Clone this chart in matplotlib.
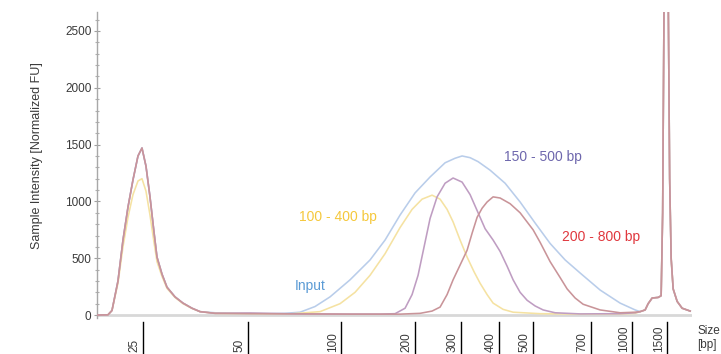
#!/usr/bin/env python3
"""Electropherogram: size selection traces vs. input (Bioanalyzer-style)."""

import matplotlib
matplotlib.use("Agg")
import matplotlib.pyplot as plt
import matplotlib.transforms as mtransforms
import numpy as np

# ---------------------------------------------------------------------------
# Data (x = migration position, y = intensity in FU)
# ---------------------------------------------------------------------------

# lower marker, shared by every trace
LOWER_X = [97, 108, 112, 118, 123, 128, 133, 138, 142, 146, 150, 154, 157, 162, 167, 175, 183, 192, 200]
LOWER_Y_TALL = [0, 2, 40, 300, 660, 950, 1190, 1400, 1470, 1310, 1040, 730, 510, 360, 245, 160, 105, 60, 30]
LOWER_Y_SHORT = [0, 2, 40, 280, 600, 860, 1060, 1180, 1200, 1090, 880, 640, 470, 340, 235, 155, 100, 58, 30]

# shoulder + upper marker (runs off the top of the plot)
UPPER_X = [640, 645, 648, 652, 658, 661, 662.5, 664, 666, 668, 669.5, 671, 673, 677, 682, 690]
UPPER_Y = [30, 45, 100, 150, 155, 170, 900, 2900, 3000, 2900, 1200, 500, 230, 120, 60, 35]

INPUT_X = [215, 230, 250, 270, 285, 300, 315, 330, 350, 370, 385, 400, 415, 430, 445, 455, 462,
           470, 478, 490, 505, 520, 535, 550, 565, 580, 600, 620, 635]
INPUT_Y = [20, 15, 12, 12, 15, 25, 75, 160, 310, 485, 660, 880, 1075, 1215, 1340, 1380, 1400,
           1385, 1350, 1275, 1160, 995, 810, 630, 485, 370, 220, 105, 45]

SEL_100_400_X = [215, 250, 290, 320, 340, 355, 370, 385, 400, 412, 422, 432, 440, 447, 453, 460,
                 467, 474, 480, 487, 493, 503, 513, 540, 580, 620, 635]
SEL_100_400_Y = [15, 12, 10, 30, 100, 200, 350, 540, 770, 930, 1020, 1055, 1020, 930, 820, 660,
                 510, 380, 280, 180, 105, 50, 25, 12, 8, 10, 15]

SEL_150_500_X = [215, 250, 300, 350, 380, 395, 405, 412, 418, 424, 430, 437, 445, 453, 462, 470,
                 478, 485, 493, 500, 507, 513, 520, 527, 535, 543, 555, 580, 620, 635]
SEL_150_500_Y = [15, 18, 10, 8, 8, 12, 60, 180, 350, 600, 850, 1040, 1160, 1206, 1170, 1060,
                 900, 760, 660, 560, 430, 310, 200, 130, 80, 45, 20, 10, 12, 20]

SEL_200_800_X = [215, 250, 300, 350, 400, 420, 432, 440, 447, 453, 460, 467, 472, 477, 482, 487,
                 493, 500, 510, 520, 533, 540, 550, 560, 567, 575, 583, 600, 620, 635]
SEL_200_800_Y = [15, 12, 10, 8, 8, 15, 35, 70, 180, 310, 440, 570, 720, 860, 940, 995,
                 1040, 1030, 980, 900, 750, 640, 470, 330, 230, 150, 95, 45, 20, 25]

# size ladder shown under the plot
SIZE_LABELS = ["25", "50", "100", "200", "300", "400", "500", "700", "1000", "1500"]
SIZE_POS = [143, 248, 341, 415, 461, 499, 533, 591, 632, 667]

TRACES = [
    # name, mid x, mid y, lower marker, colour
    ("Input", INPUT_X, INPUT_Y, LOWER_Y_TALL, "#b9cdea"),
    ("100 - 400 bp", SEL_100_400_X, SEL_100_400_Y, LOWER_Y_SHORT, "#f5e2a2"),
    ("150 - 500 bp", SEL_150_500_X, SEL_150_500_Y, LOWER_Y_TALL, "#bf9dc2"),
    ("200 - 800 bp", SEL_200_800_X, SEL_200_800_Y, LOWER_Y_TALL, "#c99499"),
]

# ---------------------------------------------------------------------------
# Plot
# ---------------------------------------------------------------------------
plt.rcParams["font.family"] = ["Liberation Sans", "DejaVu Sans"]
TEXT_GREY = "#3a3a3a"

fig = plt.figure(figsize=(7.21, 3.54), dpi=100)
ax = fig.add_axes([0.1345, 0.1017, 0.8255, 0.8644])

for name, mx, my, lower_y, color in TRACES:
    x = np.concatenate([LOWER_X, mx, UPPER_X])
    y = np.concatenate([lower_y, my, UPPER_Y])
    ax.plot(x, y, color=color, lw=1.15, solid_joinstyle="round", zorder=3)

ax.axhline(0, color="#d8d8d8", lw=2.0, zorder=1)

ax.set_xlim(97, 692)
ax.set_ylim(-26, 2667)

# axes styling -------------------------------------------------------------
for side in ("top", "right", "bottom"):
    ax.spines[side].set_visible(False)
ax.spines["left"].set_color("#a8a8a8")
ax.spines["left"].set_linewidth(1.0)

ax.set_xticks([])
ax.set_yticks(np.arange(0, 2501, 500))
ax.set_yticks(np.arange(0, 2601, 100), minor=True)
ax.tick_params(axis="y", which="major", direction="inout", length=4, width=0.8,
               color="#a0a0a0", labelsize=8.5, labelcolor=TEXT_GREY, pad=2)
ax.tick_params(axis="y", which="minor", direction="inout", length=2.5, width=0.8,
               color="#b0b0b0")

fig.text(37 / 721, 1 - 156 / 354, "Sample Intensity [Normalized FU]", rotation=90,
         ha="center", va="center", fontsize=9, color=TEXT_GREY)

# size ladder ----------------------------------------------------------------
trans = mtransforms.blended_transform_factory(ax.transData, fig.transFigure)
for label, pos in zip(SIZE_LABELS, SIZE_POS):
    ax.plot([pos, pos], [1 - 322 / 354, 0], color="black", lw=1.0,
            transform=trans, clip_on=False)
    ax.text(pos - 2.5, 1.5 / 354, label, rotation=90, ha="right", va="bottom",
            fontsize=8.5, color=TEXT_GREY, transform=trans)

fig.text(697 / 721, 1 - 331 / 354, "Size", ha="left", va="center", fontsize=8.5, color=TEXT_GREY)
fig.text(697 / 721, 1 - 345 / 354, "[bp]", ha="left", va="center", fontsize=8.5, color=TEXT_GREY)

# trace labels ---------------------------------------------------------------
ax.text(543, 1390, "150 - 500 bp", ha="center", va="center", fontsize=10, color="#6e67ad")
ax.text(338, 860, "100 - 400 bp", ha="center", va="center", fontsize=10, color="#f5c83c")
ax.text(601, 685, "200 - 800 bp", ha="center", va="center", fontsize=10, color="#e0383e")
ax.text(310, 255, "Input", ha="center", va="center", fontsize=10, color="#5b9bd5")

fig.savefig("out.png", dpi=100)
